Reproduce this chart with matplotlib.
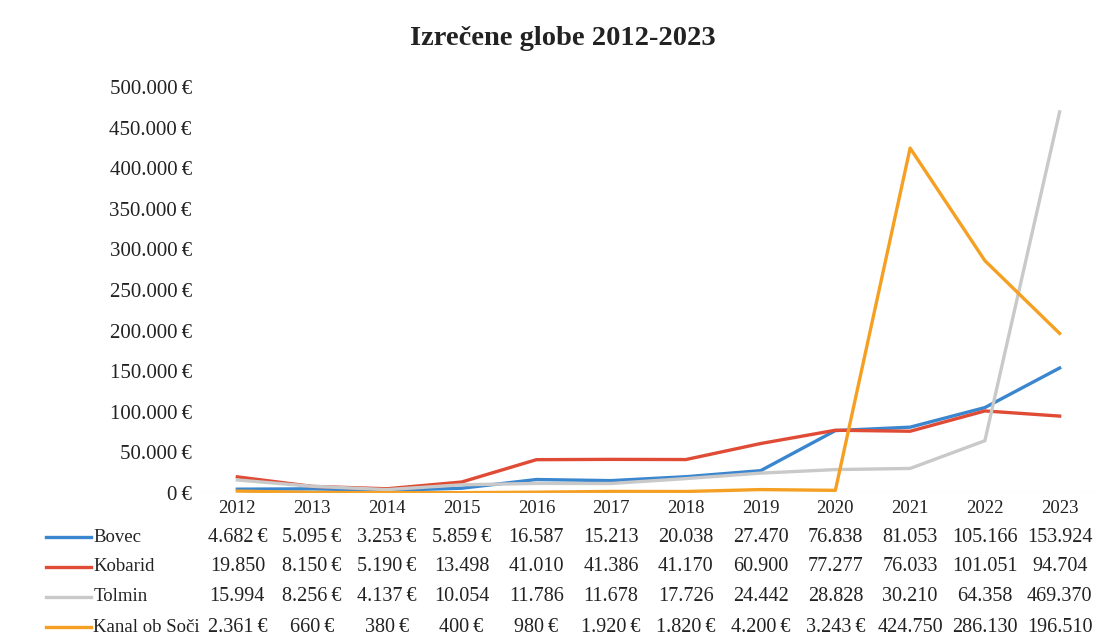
import matplotlib.pyplot as plt
import matplotlib.transforms as mtransforms
from matplotlib.lines import Line2D

years = [2012, 2013, 2014, 2015, 2016, 2017, 2018, 2019, 2020, 2021, 2022, 2023]
series_names = ["Bovec", "Kobarid", "Tolmin", "Kanal ob Soči"]
bovec = [4682, 5095, 3253, 5859, 16587, 15213, 20038, 27470, 76838, 81053, 105166, 153924]
kobarid = [19850, 8150, 5190, 13498, 41010, 41386, 41170, 60900, 77277, 76033, 101051, 94704]
tolmin = [15994, 8256, 4137, 10054, 11786, 11678, 17726, 24442, 28828, 30210, 64358, 469370]
kanal = [2361, 660, 380, 400, 980, 1920, 1820, 4200, 3243, 424750, 286130, 196510]
colors = ["#3a86cf", "#e04b36", "#c9c9c9", "#f5a023"]

plt.rcParams["font.family"] = ["Liberation Serif", "DejaVu Serif"]
TXT = "#222222"


def euro(v, with_sign=True):
    s = f"{v:,}".replace(",", ".")
    return s + "\u2009€" if with_sign else s


fig = plt.figure(figsize=(11.11, 6.44), dpi=100)
ax = fig.add_axes([0.18, 0.2345, 0.8074, 0.6304])

x = list(range(len(years)))
all_series = [bovec, kobarid, tolmin, kanal]
for vals, c in zip(all_series, colors):
    ax.plot(x, vals, color=c, linewidth=2.4)

ax.set_xlim(-0.5, len(years) - 0.5)
ax.set_ylim(0, 500000)
ax.set_yticks(range(0, 500001, 50000))
ax.set_yticklabels([euro(v) for v in range(0, 500001, 50000)], fontsize=15, color=TXT)
ax.set_xticks(x)
ax.set_xticklabels([str(y) for y in years], fontsize=13.5, color=TXT)
ax.tick_params(length=0, pad=5)
ax.tick_params(axis="y", pad=6)
for s in ax.spines.values():
    s.set_visible(False)
ax.axhline(0, color="#e6e6e6", linewidth=0.8)

fig.suptitle("Izrečene globe 2012-2023", x=0.507, y=0.96, fontsize=20.5,
             fontweight="bold", color=TXT)

# data table below the plot
trans = mtransforms.blended_transform_factory(ax.transData, fig.transFigure)
row_y = [0.166, 0.120, 0.073, 0.026]
for name, vals, c, ry in zip(series_names, all_series, colors, row_y):
    for xi, v in zip(x, vals):
        ax.text(xi, ry, euro(v, v < 10000), transform=trans, ha="center", va="center",
                fontsize=14.5, color=TXT, clip_on=False)
    fig.add_artist(Line2D([0.041, 0.082], [ry, ry], color=c, linewidth=2.4,
                          transform=fig.transFigure))
    fig.text(0.084, ry, name, ha="left", va="center", fontsize=13.5, color=TXT)

fig.savefig("out.png", dpi=100)
